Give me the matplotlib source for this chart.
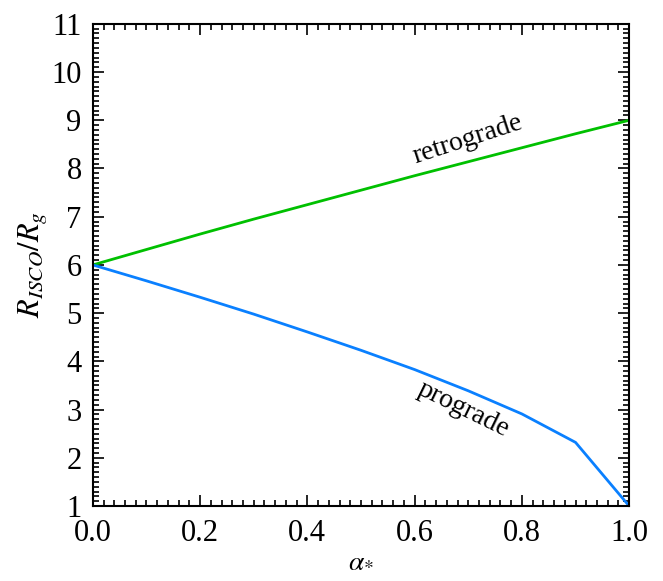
import matplotlib
matplotlib.use('Agg')
import matplotlib.pyplot as plt
from matplotlib.ticker import MultipleLocator

plt.rcParams['font.family'] = ['Liberation Serif', 'DejaVu Serif']
plt.rcParams['mathtext.fontset'] = 'stix'

spin = [0.0, 0.1, 0.2, 0.3, 0.4, 0.5, 0.6, 0.7, 0.8, 0.9, 1.0]
prograde = [6.0, 5.67, 5.33, 4.98, 4.61, 4.23, 3.83, 3.39, 2.91, 2.32, 1.0]
retrograde = [6.0, 6.32, 6.64, 6.95, 7.25, 7.55, 7.85, 8.14, 8.43, 8.72, 9.0]

fig = plt.figure(figsize=(6.63, 5.81), dpi=100)
ax = fig.add_axes([0.140, 0.129, 0.809, 0.830])

ax.plot(spin, retrograde, color='#00c000', lw=2)
ax.plot(spin, prograde, color='#0a80ff', lw=2)

ax.set_xlim(0, 1)
ax.set_ylim(1, 11)
ax.xaxis.set_major_locator(MultipleLocator(0.2))
ax.xaxis.set_minor_locator(MultipleLocator(0.02))
ax.yaxis.set_major_locator(MultipleLocator(1))
ax.yaxis.set_minor_locator(MultipleLocator(0.1))
ax.tick_params(which='both', direction='in', top=True, right=True, labelsize=22, width=1.2)
ax.tick_params(which='major', length=8)
ax.tick_params(axis='x', which='major', pad=9)
ax.tick_params(axis='y', which='major', pad=8)
ax.tick_params(which='minor', length=4)
for s in ax.spines.values():
    s.set_linewidth(1.5)

ax.set_xlabel(r'$\alpha_{*}$', fontsize=20, labelpad=0)
ax.set_ylabel(r'$R_{ISCO}/R_g$', fontsize=22, labelpad=2)

ax.text(0.70, 8.6, 'retrograde', fontsize=20, rotation=18, ha='center', va='center')
ax.text(0.69, 3.0, 'prograde', fontsize=20, rotation=-26, ha='center', va='center')

plt.savefig('out.png', dpi=100)
